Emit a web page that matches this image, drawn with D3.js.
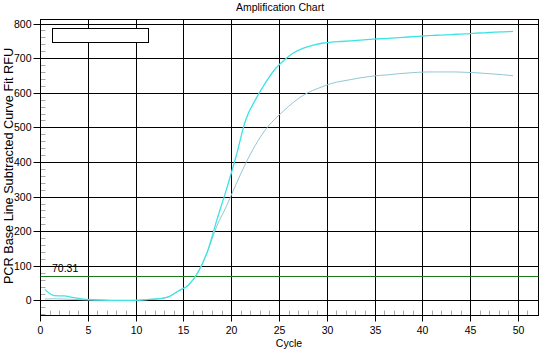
<!DOCTYPE html>
<html>
<head>
<meta charset="utf-8">
<script src="https://cdn.jsdelivr.net/npm/d3@7"></script>
<style>
  html, body { margin: 0; padding: 0; background: #fff; }
  svg { display: block; font-family: "Liberation Sans", Arial, sans-serif; }
</style>
</head>
<body>
<svg id="chart" width="560" height="350"></svg>
<script>
// Cycle positions of the recorded reads
const cycles = d3.range(0.5, 50, 1);

// Baseline-subtracted RFU for each well
const wellA = [32, 14, 13, 8, 4, 2, 1, 0, 0, 0,
               1, 3, 5, 11, 28, 44, 80, 140, 232, 320,
               415, 520, 578, 625, 665, 693, 715, 728, 737, 743,
               746, 748, 750, 752, 754, 756, 757, 759, 761, 763,
               765, 766, 767, 769, 770, 772, 773, 775, 776, 777];
const wellB = [4, 5, 4, 3, 2, 1, 1, 0, 0, 0,
               1, 3, 5, 11, 28, 44, 80, 140, 215, 272,
               335, 395, 447, 490, 522, 548, 572, 592, 606, 617,
               627, 633, 638, 643, 647, 650, 652, 655, 657, 659,
               660, 660, 660, 660, 659, 658, 656, 654, 652, 649];

const threshold = 70.31;
const xTicks = [0, 5, 10, 15, 20, 25, 30, 35, 40, 45, 50];
const yTicks = [0, 100, 200, 300, 400, 500, 600, 700, 800];

const svg = d3.select("#chart");
const plotLeft = 40, plotRight = 538, plotTop = 19, plotBottom = 315;

const x = d3.scaleLinear().domain([0, 52.1]).range([plotLeft, plotRight]);
const y = d3.scaleLinear().domain([-42, 813]).range([plotBottom, plotTop]);

const crisp = v => Math.round(v) + 0.5;

// Title
svg.append("text")
  .attr("x", 280).attr("y", 11)
  .attr("text-anchor", "middle")
  .attr("font-size", "10.5px")
  .attr("fill", "#000")
  .text("Amplification Chart");

// Minor ticks (gray, pointing into the plot)
const minorX = d3.range(1, 52).filter(v => v % 5 !== 0);
const minorY = d3.range(-40, 813, 20).filter(v => v % 100 !== 0);

const minorXAxis = svg.append("g")
  .attr("transform", `translate(0,${crisp(plotBottom)})`)
  .call(d3.axisBottom(x).tickValues(minorX).tickSize(-5).tickFormat(""))
  .call(g => g.select(".domain").remove());
minorXAxis.selectAll(".tick").attr("transform", d => `translate(${crisp(x(d))},0)`);
minorXAxis.selectAll(".tick line").attr("stroke", "#a8a8a8");

const minorYAxis = svg.append("g")
  .attr("transform", `translate(${crisp(plotLeft)},0)`)
  .call(d3.axisLeft(y).tickValues(minorY).tickSize(-5).tickFormat(""))
  .call(g => g.select(".domain").remove());
minorYAxis.selectAll(".tick").attr("transform", d => `translate(0,${crisp(y(d))})`);
minorYAxis.selectAll(".tick line").attr("stroke", "#a8a8a8");

// Major grid with outward ticks
const gridX = svg.append("g")
  .attr("transform", `translate(0,${crisp(plotBottom)})`)
  .call(d3.axisBottom(x).tickValues(xTicks).tickSize(6).tickPadding(5).tickFormat(d3.format("d")))
  .call(g => g.select(".domain").remove());
gridX.selectAll(".tick").attr("transform", d => `translate(${crisp(x(d))},0)`);
gridX.selectAll(".tick line").attr("y1", -(crisp(plotBottom) - crisp(plotTop))).attr("stroke", "#000");
gridX.selectAll(".tick text").attr("font-size", "10.5px").attr("fill", "#000")
  .attr("font-family", "Liberation Sans, Arial, sans-serif");

const gridY = svg.append("g")
  .attr("transform", `translate(${crisp(plotLeft)},0)`)
  .call(d3.axisLeft(y).tickValues(yTicks).tickSize(7).tickPadding(2).tickFormat(d3.format("d")))
  .call(g => g.select(".domain").remove());
gridY.selectAll(".tick").attr("transform", d => `translate(0,${crisp(y(d))})`);
gridY.selectAll(".tick line").attr("x1", crisp(plotRight) - crisp(plotLeft)).attr("stroke", "#000");
gridY.selectAll(".tick text").attr("font-size", "10.5px").attr("fill", "#000")
  .attr("font-family", "Liberation Sans, Arial, sans-serif");

// Plot frame
svg.append("rect")
  .attr("x", crisp(plotLeft)).attr("y", crisp(plotTop))
  .attr("width", crisp(plotRight) - crisp(plotLeft))
  .attr("height", crisp(plotBottom) - crisp(plotTop))
  .attr("fill", "none").attr("stroke", "#000");

// Threshold line and label
svg.append("line")
  .attr("x1", crisp(plotLeft)).attr("x2", crisp(plotRight))
  .attr("y1", crisp(y(threshold))).attr("y2", crisp(y(threshold)))
  .attr("stroke", "#1a7a1a");
svg.append("text")
  .attr("x", 52).attr("y", y(threshold) - 4)
  .attr("font-size", "10.5px").attr("fill", "#000")
  .text(threshold.toFixed(2));

// Amplification curves
const line = d3.line()
  .x(d => x(d[0]))
  .y(d => y(d[1]))
  .curve(d3.curveMonotoneX);

svg.append("path")
  .datum(cycles.map((c, i) => [c, wellB[i]]))
  .attr("d", line)
  .attr("fill", "none")
  .attr("stroke", "#94c6d4")
  .attr("stroke-width", 1);

svg.append("path")
  .datum(cycles.map((c, i) => [c, wellA[i]]))
  .attr("d", line)
  .attr("fill", "none")
  .attr("stroke", "#3ee3e3")
  .attr("stroke-width", 1.3);

// Legend box
svg.append("rect")
  .attr("x", 52.5).attr("y", 28.5)
  .attr("width", 96).attr("height", 14)
  .attr("fill", "#fff").attr("stroke", "#000");

// Axis titles
svg.append("text")
  .attr("x", 289).attr("y", 347)
  .attr("text-anchor", "middle")
  .attr("font-size", "10.5px").attr("fill", "#000")
  .text("Cycle");

svg.append("text")
  .attr("transform", "translate(13,166) rotate(-90)")
  .attr("text-anchor", "middle")
  .attr("font-size", "12.7px").attr("fill", "#000")
  .text("PCR Base Line Subtracted Curve Fit RFU");
</script>
</body>
</html>
